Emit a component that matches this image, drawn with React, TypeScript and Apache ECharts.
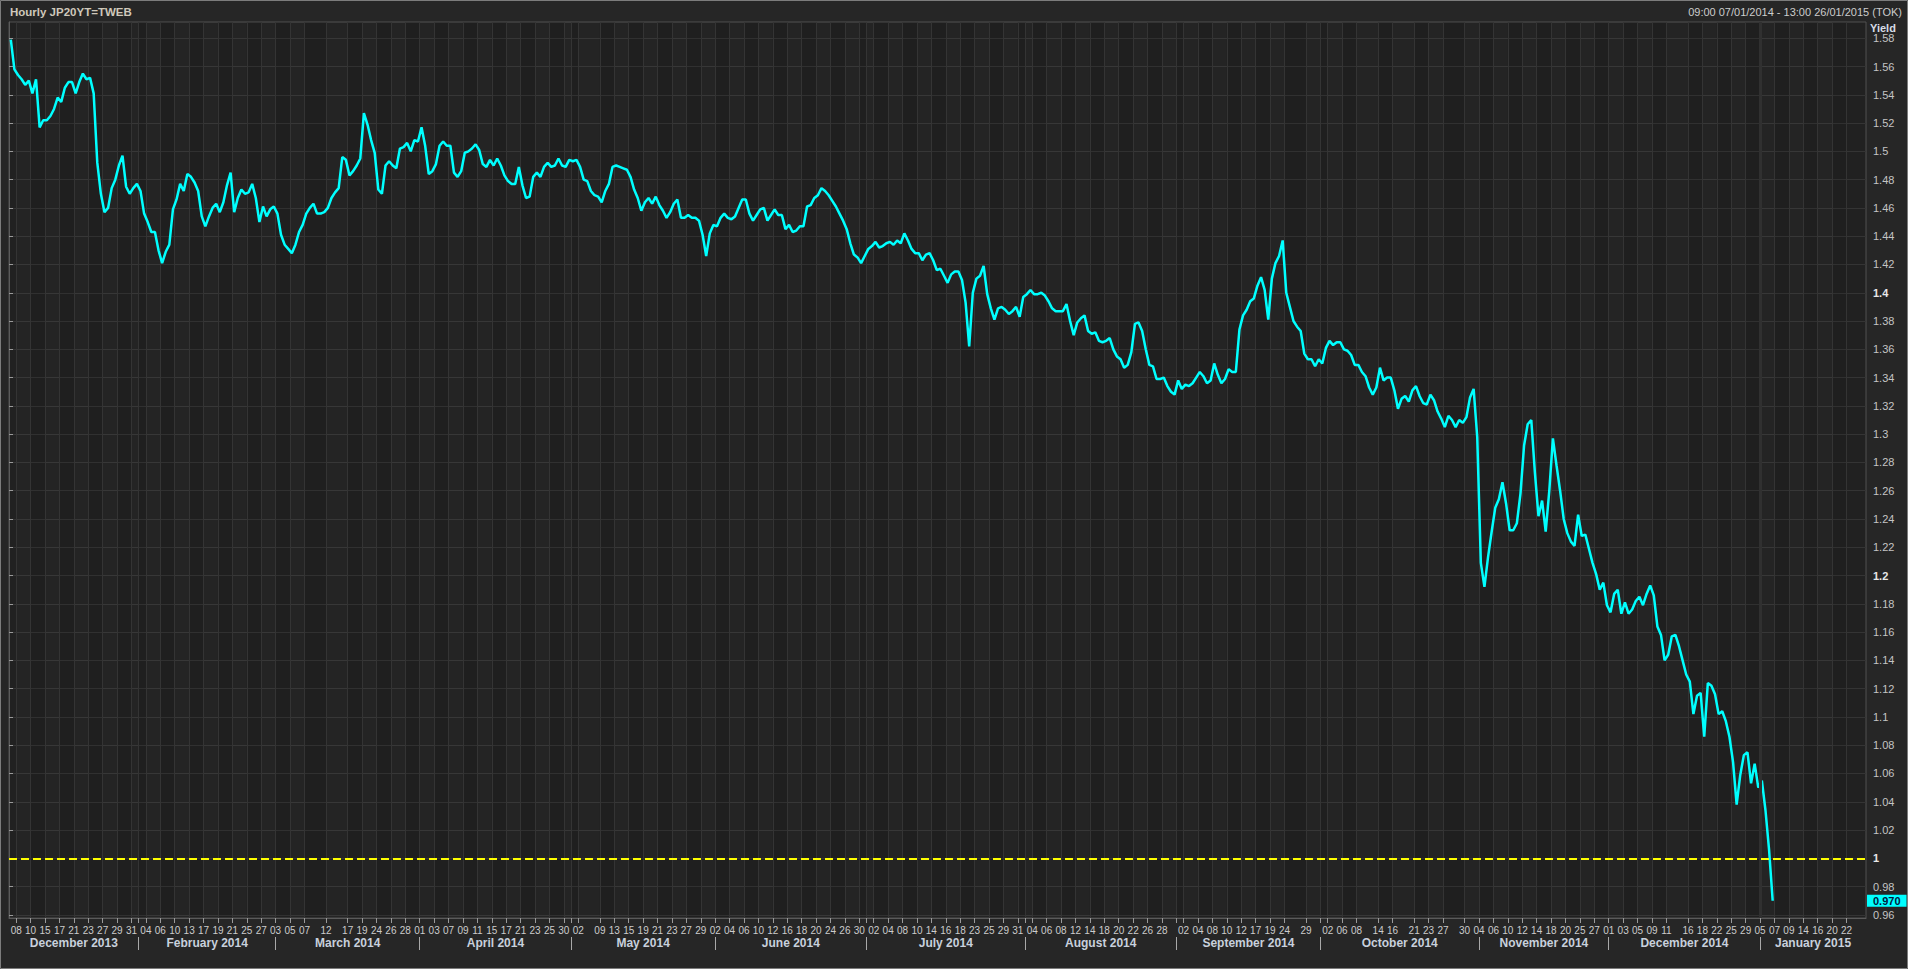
import React, { useEffect, useRef } from 'react';
import * as echarts from 'echarts';

// ---------- data ----------
const FIRST_DAY = '2014-01-07';
const LAST_DAY = '2015-01-26';

// Japanese market holidays inside the range (weekends are skipped separately)
const HOLIDAYS = [
  '2014-01-13', '2014-02-11', '2014-03-21', '2014-04-29', '2014-05-05', '2014-05-06',
  '2014-07-21', '2014-09-15', '2014-09-23', '2014-10-13', '2014-11-03', '2014-11-24',
  '2014-12-23', '2014-12-31', '2015-01-01', '2015-01-02', '2015-01-12',
];

// day tick labels shown on the time axis
const TICK_DATES = [
  '2014-01-08', '2014-01-10', '2014-01-15', '2014-01-17', '2014-01-21', '2014-01-23', '2014-01-27', '2014-01-29', '2014-01-31',
  '2014-02-04', '2014-02-06', '2014-02-10', '2014-02-13', '2014-02-17', '2014-02-19', '2014-02-21', '2014-02-25', '2014-02-27',
  '2014-03-03', '2014-03-05', '2014-03-07', '2014-03-12', '2014-03-17', '2014-03-19', '2014-03-24', '2014-03-26', '2014-03-28',
  '2014-04-01', '2014-04-03', '2014-04-07', '2014-04-09', '2014-04-11', '2014-04-15', '2014-04-17', '2014-04-21', '2014-04-23', '2014-04-25', '2014-04-30',
  '2014-05-02', '2014-05-09', '2014-05-13', '2014-05-15', '2014-05-19', '2014-05-21', '2014-05-23', '2014-05-27', '2014-05-29',
  '2014-06-02', '2014-06-04', '2014-06-06', '2014-06-10', '2014-06-12', '2014-06-16', '2014-06-18', '2014-06-20', '2014-06-24', '2014-06-26', '2014-06-30',
  '2014-07-02', '2014-07-04', '2014-07-08', '2014-07-10', '2014-07-14', '2014-07-16', '2014-07-18', '2014-07-23', '2014-07-25', '2014-07-29', '2014-07-31',
  '2014-08-04', '2014-08-06', '2014-08-08', '2014-08-12', '2014-08-14', '2014-08-18', '2014-08-20', '2014-08-22', '2014-08-26', '2014-08-28',
  '2014-09-02', '2014-09-04', '2014-09-08', '2014-09-10', '2014-09-12', '2014-09-17', '2014-09-19', '2014-09-24', '2014-09-29',
  '2014-10-02', '2014-10-06', '2014-10-08', '2014-10-14', '2014-10-16', '2014-10-21', '2014-10-23', '2014-10-27', '2014-10-30',
  '2014-11-04', '2014-11-06', '2014-11-10', '2014-11-12', '2014-11-14', '2014-11-18', '2014-11-20', '2014-11-25', '2014-11-27',
  '2014-12-01', '2014-12-03', '2014-12-05', '2014-12-09', '2014-12-11', '2014-12-16', '2014-12-18', '2014-12-22', '2014-12-25', '2014-12-29',
  '2015-01-05', '2015-01-07', '2015-01-09', '2015-01-14', '2015-01-16', '2015-01-20', '2015-01-22',
];

// month band labels (as printed on the original)
const MONTH_LABELS = [
  'December 2013', 'February 2014', 'March 2014', 'April 2014', 'May 2014', 'June 2014', 'July 2014',
  'August 2014', 'September 2014', 'October 2014', 'November 2014', 'December 2014', 'January 2015',
];

const Y_TICKS = [
  0.96, 0.98, 1, 1.02, 1.04, 1.06, 1.08, 1.1, 1.12, 1.14, 1.16, 1.18, 1.2, 1.22, 1.24, 1.26,
  1.28, 1.3, 1.32, 1.34, 1.36, 1.38, 1.4, 1.42, 1.44, 1.46, 1.48, 1.5, 1.52, 1.54, 1.56, 1.58,
];

// JP20YT yield, two readings per trading session starting 07/01/2014
const YIELD = [
  1.579, 1.558, 1.554, 1.551, 1.547, 1.550, 1.541, 1.551, 1.517, 1.522,
  1.522, 1.525, 1.530, 1.538, 1.535, 1.545, 1.549, 1.549, 1.541, 1.549,
  1.555, 1.551, 1.552, 1.541, 1.492, 1.470, 1.457, 1.460, 1.474, 1.480,
  1.490, 1.497, 1.475, 1.470, 1.474, 1.477, 1.472, 1.456, 1.450, 1.443,
  1.443, 1.430, 1.421, 1.429, 1.434, 1.459, 1.466, 1.477, 1.472, 1.484,
  1.482, 1.478, 1.472, 1.454, 1.447, 1.454, 1.460, 1.463, 1.457, 1.464,
  1.476, 1.485, 1.457, 1.467, 1.473, 1.470, 1.471, 1.477, 1.467, 1.450,
  1.461, 1.454, 1.459, 1.461, 1.456, 1.441, 1.434, 1.431, 1.428, 1.434,
  1.443, 1.448, 1.456, 1.460, 1.463, 1.456, 1.456, 1.457, 1.460, 1.467,
  1.471, 1.474, 1.496, 1.494, 1.483, 1.486, 1.490, 1.495, 1.527, 1.519,
  1.508, 1.499, 1.473, 1.470, 1.490, 1.493, 1.490, 1.488, 1.502, 1.503,
  1.506, 1.500, 1.508, 1.507, 1.517, 1.504, 1.484, 1.486, 1.491, 1.504,
  1.507, 1.504, 1.504, 1.485, 1.482, 1.486, 1.499, 1.500, 1.502, 1.505,
  1.501, 1.491, 1.489, 1.494, 1.490, 1.495, 1.490, 1.483, 1.479, 1.477,
  1.477, 1.489, 1.476, 1.467, 1.468, 1.482, 1.485, 1.482, 1.489, 1.492,
  1.489, 1.490, 1.495, 1.490, 1.489, 1.494, 1.493, 1.494, 1.489, 1.480,
  1.479, 1.472, 1.469, 1.468, 1.464, 1.472, 1.477, 1.489, 1.490, 1.489,
  1.488, 1.487, 1.482, 1.473, 1.467, 1.458, 1.464, 1.467, 1.463, 1.468,
  1.462, 1.458, 1.453, 1.457, 1.463, 1.466, 1.453, 1.453, 1.455, 1.453,
  1.453, 1.451, 1.441, 1.426, 1.442, 1.448, 1.447, 1.453, 1.456, 1.453,
  1.452, 1.454, 1.460, 1.466, 1.466, 1.456, 1.451, 1.455, 1.459, 1.460,
  1.451, 1.455, 1.459, 1.455, 1.455, 1.445, 1.448, 1.443, 1.444, 1.447,
  1.447, 1.461, 1.462, 1.467, 1.469, 1.474, 1.472, 1.469, 1.465, 1.461,
  1.456, 1.451, 1.445, 1.435, 1.427, 1.425, 1.421, 1.426, 1.431, 1.433,
  1.436, 1.432, 1.433, 1.435, 1.436, 1.434, 1.437, 1.435, 1.442, 1.437,
  1.431, 1.428, 1.428, 1.423, 1.427, 1.428, 1.423, 1.416, 1.417, 1.412,
  1.407, 1.413, 1.415, 1.415, 1.409, 1.393, 1.362, 1.400, 1.410, 1.412,
  1.419, 1.399, 1.389, 1.381, 1.389, 1.390, 1.388, 1.385, 1.387, 1.390,
  1.383, 1.397, 1.399, 1.402, 1.399, 1.399, 1.400, 1.398, 1.394, 1.389,
  1.387, 1.387, 1.387, 1.392, 1.380, 1.370, 1.379, 1.382, 1.384, 1.373,
  1.371, 1.372, 1.366, 1.365, 1.366, 1.368, 1.360, 1.355, 1.353, 1.347,
  1.349, 1.358, 1.378, 1.379, 1.373, 1.360, 1.349, 1.348, 1.339, 1.339,
  1.340, 1.334, 1.330, 1.328, 1.338, 1.332, 1.335, 1.334, 1.336, 1.340,
  1.344, 1.341, 1.336, 1.338, 1.350, 1.342, 1.336, 1.339, 1.346, 1.344,
  1.344, 1.374, 1.384, 1.388, 1.394, 1.396, 1.405, 1.411, 1.402, 1.381,
  1.410, 1.421, 1.426, 1.437, 1.400, 1.390, 1.380, 1.376, 1.373, 1.357,
  1.353, 1.353, 1.348, 1.353, 1.350, 1.361, 1.366, 1.363, 1.365, 1.365,
  1.360, 1.359, 1.356, 1.349, 1.349, 1.344, 1.341, 1.333, 1.328, 1.333,
  1.347, 1.338, 1.340, 1.340, 1.331, 1.318, 1.325, 1.327, 1.323, 1.331,
  1.334, 1.327, 1.322, 1.321, 1.328, 1.324, 1.316, 1.311, 1.305, 1.313,
  1.310, 1.305, 1.310, 1.308, 1.312, 1.326, 1.332, 1.298, 1.209, 1.192,
  1.213, 1.231, 1.248, 1.254, 1.266, 1.251, 1.232, 1.232, 1.237, 1.258,
  1.292, 1.307, 1.310, 1.273, 1.242, 1.253, 1.231, 1.260, 1.297, 1.278,
  1.260, 1.240, 1.230, 1.224, 1.221, 1.243, 1.228, 1.229, 1.219, 1.209,
  1.201, 1.190, 1.195, 1.179, 1.174, 1.187, 1.190, 1.173, 1.181, 1.173,
  1.176, 1.182, 1.185, 1.179, 1.187, 1.193, 1.186, 1.164, 1.158, 1.140,
  1.144, 1.157, 1.158, 1.150, 1.140, 1.130, 1.125, 1.102, 1.115, 1.117,
  1.086, 1.124, 1.122, 1.116, 1.102, 1.104, 1.097, 1.086, 1.068, 1.038,
  1.059, 1.073, 1.075, 1.053, 1.067, 1.050, 1.055, 1.034, 1.006, 0.970,
];

const REFERENCE_LEVEL = 1;

// axis extents (in trading-session units / yield units)
const X_MIN = 0;
const X_MAX = 257.7;
const Y_MIN = 0.9578;
const Y_MAX = 1.5915;

const FONT = "'Liberation Sans', Arial, sans-serif";

function buildTradingDays(): string[] {
  const out: string[] = [];
  const hol = new Set(HOLIDAYS);
  const [y0, m0, d0] = FIRST_DAY.split('-').map(Number);
  const [y1, m1, d1] = LAST_DAY.split('-').map(Number);
  let t = Date.UTC(y0, m0 - 1, d0);
  const end = Date.UTC(y1, m1 - 1, d1);
  while (t <= end) {
    const dt = new Date(t);
    const wd = dt.getUTCDay();
    const iso = dt.toISOString().slice(0, 10);
    if (wd !== 0 && wd !== 6 && !hol.has(iso)) out.push(iso);
    t += 86400000;
  }
  return out;
}

export default function App() {
  const ref = useRef<HTMLDivElement>(null);

  useEffect(() => {
    if (!ref.current) return;
    const chart = echarts.init(ref.current, undefined, { renderer: 'svg', width: 1908, height: 969 });

    const days = buildTradingDays();
    const dayIndex = new Map<string, number>();
    days.forEach((d, i) => dayIndex.set(d, i));

    // day ticks
    const dayLabel = new Map<number, string>();
    const labelTicks: number[] = [];
    TICK_DATES.forEach((d) => {
      const i = dayIndex.get(d);
      if (i !== undefined) {
        labelTicks.push(i);
        dayLabel.set(i, d.slice(8, 10));
      }
    });

    // month bands
    const monthStarts: number[] = [];
    let prevKey = '';
    days.forEach((d, i) => {
      const key = d.slice(0, 7);
      if (key !== prevKey) {
        monthStarts.push(i);
        prevKey = key;
      }
    });
    const nMonths = Math.min(monthStarts.length, MONTH_LABELS.length);
    const monthCenters: number[] = [];
    const monthName = new Map<number, string>();
    for (let i = 0; i < nMonths; i++) {
      const s = i === 0 ? X_MIN : monthStarts[i];
      const e = i + 1 < monthStarts.length ? monthStarts[i + 1] : X_MAX;
      const c = (s + e) / 2;
      monthCenters.push(c);
      monthName.set(Math.round(c * 100), MONTH_LABELS[i]);
    }
    const separators = monthStarts.slice(1);
    const yearStart = dayIndex.get('2015-01-05') ?? separators[separators.length - 1];

    const gridTicks = Array.from(new Set([...labelTicks, ...separators])).sort((a, b) => a - b);

    const seriesData = YIELD.map((v, k) => [(k + 0.5) / 2, v]);
    const LAST = YIELD[YIELD.length - 1];

    const option: any = {
      animation: false,
      backgroundColor: '#262626',
      textStyle: { fontFamily: FONT },
      title: [
        {
          text: 'Hourly JP20YT=TWEB',
          left: 10,
          top: 6,
          padding: 0,
          textStyle: { color: '#cfc8bb', fontSize: 11.5, fontWeight: 'bold', fontFamily: FONT },
        },
        {
          text: '09:00 07/01/2014 - 13:00 26/01/2015 (TOK)',
          right: 6,
          top: 6,
          padding: 0,
          textStyle: { color: '#cccccc', fontSize: 11, fontWeight: 'normal', fontFamily: FONT },
        },
        {
          text: 'Yield',
          left: 1870,
          top: 22,
          padding: 0,
          textStyle: { color: '#d6dce6', fontSize: 11, fontWeight: 'bold', fontFamily: FONT },
        },
      ],
      graphic: [
        {
          type: 'rect',
          silent: true,
          z: 100,
          shape: { x: 0.5, y: 0.5, width: 1907, height: 968 },
          style: { fill: 'none', stroke: '#7c7c7c', lineWidth: 1 },
        },
      ],
      grid: {
        left: 9,
        right: 42,
        top: 22,
        bottom: 51,
        show: true,
        backgroundColor: '#212121',
        borderColor: '#505050',
        borderWidth: 1,
        outerBoundsMode: 'none',
        containLabel: false,
      },
      xAxis: [
        {
          type: 'value',
          min: X_MIN,
          max: X_MAX,
          position: 'bottom',
          axisLine: { show: true, onZero: false, lineStyle: { color: '#5a5a5a' } },
          axisTick: { show: true, customValues: gridTicks, length: 5, lineStyle: { color: '#9a9a9a' } },
          axisLabel: {
            customValues: labelTicks,
            formatter: (v: number) => dayLabel.get(Math.round(v)) ?? '',
            color: '#cccccc',
            fontSize: 10,
            margin: 7,
            fontFamily: FONT,
          },
          splitLine: { show: true, lineStyle: { color: '#343434', width: 1 } },
          splitArea: { show: true, areaStyle: { color: ['rgba(255,255,255,0.015)', 'rgba(0,0,0,0.06)'] } },
        },
        {
          type: 'value',
          min: X_MIN,
          max: X_MAX,
          position: 'bottom',
          offset: 19,
          axisLine: { show: false },
          axisTick: { show: true, customValues: separators, length: 13, lineStyle: { color: '#a8a8a8' } },
          axisLabel: {
            customValues: monthCenters,
            formatter: (v: number) => monthName.get(Math.round(v * 100)) ?? '',
            color: '#c8d0dc',
            fontSize: 12,
            fontWeight: 'bold',
            margin: 0,
            fontFamily: FONT,
          },
          splitLine: { show: false },
        },
      ],
      yAxis: {
        type: 'value',
        position: 'right',
        min: Y_MIN,
        max: Y_MAX,
        minInterval: 0.02,
        maxInterval: 0.02,
        splitNumber: 31,
        axisLine: { show: true, lineStyle: { color: '#5a5a5a' } },
        axisTick: { show: true, customValues: Y_TICKS, length: 4, lineStyle: { color: '#9a9a9a' } },
        axisLabel: {
          customValues: Y_TICKS,
          margin: 7,
          fontSize: 11,
          color: '#c4c4c4',
          fontFamily: FONT,
          formatter: (v: number) => {
            const s = String(parseFloat(v.toFixed(2)));
            return Math.abs(v * 5 - Math.round(v * 5)) < 1e-6 ? `{b|${s}}` : s;
          },
          rich: { b: { fontWeight: 'bold', color: '#e8e8e8', fontSize: 11, fontFamily: FONT } },
        },
        splitLine: { show: true, lineStyle: { color: '#343434', width: 1 } },
      },
      series: [
        {
          type: 'line',
          data: seriesData,
          showSymbol: false,
          symbol: 'none',
          silent: true,
          clip: true,
          lineStyle: { color: '#00ffff', width: 2.5 },
          itemStyle: { color: '#00ffff' },
          markLine: {
            silent: true,
            symbol: ['none', 'none'],
            animation: false,
            data: [
              { xAxis: yearStart, lineStyle: { color: '#303030', width: 3, type: 'solid' }, label: { show: false } },
              {
                yAxis: REFERENCE_LEVEL,
                lineStyle: { color: '#ffff00', width: 2, type: [8, 4] },
                label: { show: false },
              },
            ],
          },
        },
        {
          type: 'line',
          data: [],
          silent: true,
          markLine: {
            silent: true,
            symbol: ['none', 'none'],
            animation: false,
            data: [
              {
                yAxis: LAST,
                lineStyle: { color: 'rgba(0,0,0,0)', width: 1, type: 'solid' },
                label: {
                  show: true,
                  position: 'end',
                  distance: 1,
                  formatter: LAST.toFixed(3),
                  backgroundColor: '#00ffff',
                  color: '#001840',
                  fontWeight: 'bold',
                  fontSize: 11,
                  padding: [1, 6, 0, 6],
                  fontFamily: FONT,
                },
              },
            ],
          },
        },
      ],
    };

    chart.setOption(option);
    return () => chart.dispose();
  }, []);

  return <div ref={ref} style={{ position: 'fixed', left: 0, top: 0, width: 1908, height: 969 }} />;
}
